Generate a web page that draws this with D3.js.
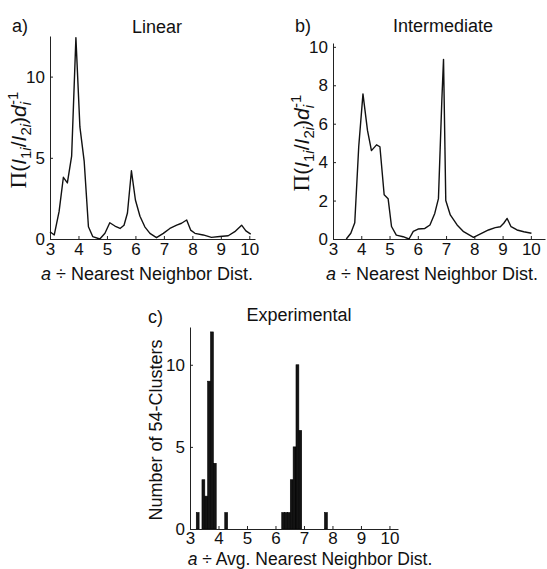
<!DOCTYPE html>
<html>
<head>
<meta charset="utf-8">
<script src="https://cdn.jsdelivr.net/npm/d3@7/dist/d3.min.js"></script>
<style>
  body { margin: 0; background: #fff; }
  svg { display: block; font-family: "Liberation Sans", Arial, Helvetica, sans-serif; }
  .axis path, .axis line { stroke: #222; stroke-width: 1; }
  .axis text { font-size: 17px; fill: #111; font-family: "Liberation Sans", Arial, sans-serif; }
</style>
</head>
<body>
<script>
// ---------- data ----------
const xTicks = [3, 4, 5, 6, 7, 8, 9, 10];
const yTicksA = [0, 5, 10];
const yTicksB = [0, 2, 4, 6, 8, 10];
const yTicksC = [0, 5, 10];

const linearX = [3.0, 3.15, 3.32, 3.47, 3.61, 3.76, 3.91, 4.05, 4.2, 4.35, 4.5, 4.75, 4.93, 5.1, 5.28, 5.46, 5.6, 5.72, 5.86, 6.0, 6.16, 6.33, 6.51, 6.74, 6.98, 7.21, 7.45, 7.62, 7.8, 7.94, 8.09, 8.38, 8.67, 8.96, 9.26, 9.49, 9.73, 9.88, 10.05];
const linearY = [0.45, 0.25, 1.7, 3.8, 3.45, 5.1, 12.4, 6.9, 4.8, 0.75, 0.15, 0.0, 0.35, 1.0, 0.8, 0.65, 0.85, 1.6, 4.2, 2.4, 1.4, 0.75, 0.35, 0.08, 0.35, 0.65, 0.85, 0.97, 1.17, 0.55, 0.35, 0.25, 0.1, 0.15, 0.2, 0.45, 0.85, 0.5, 0.3];

const interX = [3.47, 3.63, 3.77, 3.91, 4.06, 4.22, 4.36, 4.54, 4.66, 4.81, 4.95, 5.07, 5.24, 5.48, 5.69, 5.84, 6.01, 6.25, 6.43, 6.6, 6.73, 6.85, 6.91, 6.99, 7.15, 7.39, 7.62, 7.97, 8.2, 8.5, 8.74, 8.92, 9.04, 9.16, 9.3, 9.51, 9.75, 10.02];
const interY = [0, 0.3, 0.85, 4.8, 7.55, 5.65, 4.6, 4.9, 4.8, 2.3, 2.1, 0.65, 0.2, 0.12, 0, 0.4, 0.52, 0.55, 0.73, 1.33, 2.1, 7.2, 9.35, 2.0, 1.25, 0.73, 0.38, 0.09, 0.26, 0.47, 0.59, 0.64, 0.82, 1.07, 0.64, 0.47, 0.38, 0.3];

const expCenters = [3.27, 3.47, 3.57, 3.67, 3.77, 3.87, 4.27, 6.27, 6.37, 6.47, 6.57, 6.67, 6.77, 6.87, 7.77];
const expCounts  = [1, 3, 2, 9, 12, 4, 1, 1, 1, 1, 3, 5, 10, 6, 1];
const binWidth = 0.1;

// ---------- drawing ----------
const svg = d3.select("body").append("svg").attr("width", 547).attr("height", 569);

function axes(x, y, yTicks, y0, x0, pad) {
  svg.append("g").attr("class", "axis")
    .attr("transform", `translate(0,${y0})`)
    .call(d3.axisBottom(x).tickValues(xTicks).tickSizeInner(-3).tickSizeOuter(0).tickPadding(pad).tickFormat(d3.format("d")));
  svg.append("g").attr("class", "axis")
    .attr("transform", `translate(${x0},0)`)
    .call(d3.axisLeft(y).tickValues(yTicks).tickSizeInner(-3).tickSizeOuter(0).tickPadding(5).tickFormat(d3.format("d")));
}

function text(x, y, s, anchor, size) {
  return svg.append("text").attr("x", x).attr("y", y).attr("text-anchor", anchor || "start")
    .style("font-size", (size || 18) + "px").style("fill", "#111").text(s);
}

function xLabel(cx, y, avg, size) {
  const t = svg.append("text").attr("x", cx).attr("y", y).attr("text-anchor", "middle")
    .style("font-size", size + "px").style("fill", "#111");
  t.append("tspan").text("a").style("font-style", "italic");
  t.append("tspan").text(avg ? " ÷ Avg. Nearest Neighbor Dist." : " ÷ Nearest Neighbor Dist.");
}

function yLabelPi(x, cy) {
  const t = svg.append("text").attr("transform", `translate(${x},${cy}) rotate(-90)`)
    .attr("text-anchor", "middle").style("font-size", "21px").style("fill", "#111");
  t.append("tspan").text("Π").style("font-family", "Liberation Serif, serif").style("font-size", "23px");
  t.append("tspan").text("(");
  t.append("tspan").text("I").style("font-style", "italic");
  t.append("tspan").text("1").attr("dy", 5).style("font-size", "15px");
  t.append("tspan").text("i").style("font-size", "15px").style("font-style", "italic");
  t.append("tspan").text("/").attr("dy", -5);
  t.append("tspan").text("I").style("font-style", "italic");
  t.append("tspan").text("2").attr("dy", 5).style("font-size", "15px");
  t.append("tspan").text("i").style("font-size", "15px").style("font-style", "italic");
  t.append("tspan").text(")").attr("dy", -5);
  t.append("tspan").text("d").style("font-style", "italic");
  t.append("tspan").text("i").attr("dy", 5).style("font-size", "15px").style("font-style", "italic");
  t.append("tspan").text("-1").attr("dy", -13).attr("dx", -3).style("font-size", "15px");
}

// Panel a
{
  const x = d3.scaleLinear().domain([3, 10.2]).range([50, 255]);
  const y = d3.scaleLinear().domain([0, 12.5]).range([239, 36]);
  axes(x, y, yTicksA, 239, 50, 4);
  svg.append("path").datum(linearX.map((d, i) => [d, linearY[i]]))
    .attr("fill", "none").attr("stroke", "#111").attr("stroke-width", 1.4).attr("stroke-linejoin", "round")
    .attr("d", d3.line().x(d => x(d[0])).y(d => y(d[1])));
  text(12, 32, "a)");
  text(157, 33, "Linear", "middle");
  xLabel(147, 280, false, 18);
  yLabelPi(26, 140);
}

// Panel b
{
  const x = d3.scaleLinear().domain([3, 10.5]).range([333, 545]);
  const y = d3.scaleLinear().domain([0, 10.2]).range([239, 43]);
  axes(x, y, yTicksB, 239, 333, 4);
  svg.append("path").datum(interX.map((d, i) => [d, interY[i]]))
    .attr("fill", "none").attr("stroke", "#111").attr("stroke-width", 1.4).attr("stroke-linejoin", "round")
    .attr("d", d3.line().x(d => x(d[0])).y(d => y(d[1])));
  text(295, 32, "b)");
  text(443, 32, "Intermediate", "middle");
  xLabel(432, 280, false, 18);
  yLabelPi(309, 143);
}

// Panel c
{
  const x = d3.scaleLinear().domain([3, 10.3]).range([190, 398]);
  const y = d3.scaleLinear().domain([0, 12.3]).range([529, 327]);
  svg.append("g").selectAll("rect").data(expCenters.map((c, i) => ({ c, n: expCounts[i] })))
    .join("rect")
    .attr("x", d => x(d.c - binWidth / 2))
    .attr("width", d => x(d.c + binWidth / 2) - x(d.c - binWidth / 2))
    .attr("y", d => y(d.n))
    .attr("height", d => y(0) - y(d.n))
    .attr("fill", "#141414").attr("stroke", "#000").attr("stroke-width", 0.6);
  axes(x, y, yTicksC, 529, 190, 3);
  text(148, 323, "c)");
  text(299, 321, "Experimental", "middle");
  xLabel(310, 565, true, 17.5);
  svg.append("text").attr("transform", `translate(162,430) rotate(-90)`)
    .attr("text-anchor", "middle").style("font-size", "18px").style("fill", "#111")
    .text("Number of 54-Clusters");
}
</script>
</body>
</html>
